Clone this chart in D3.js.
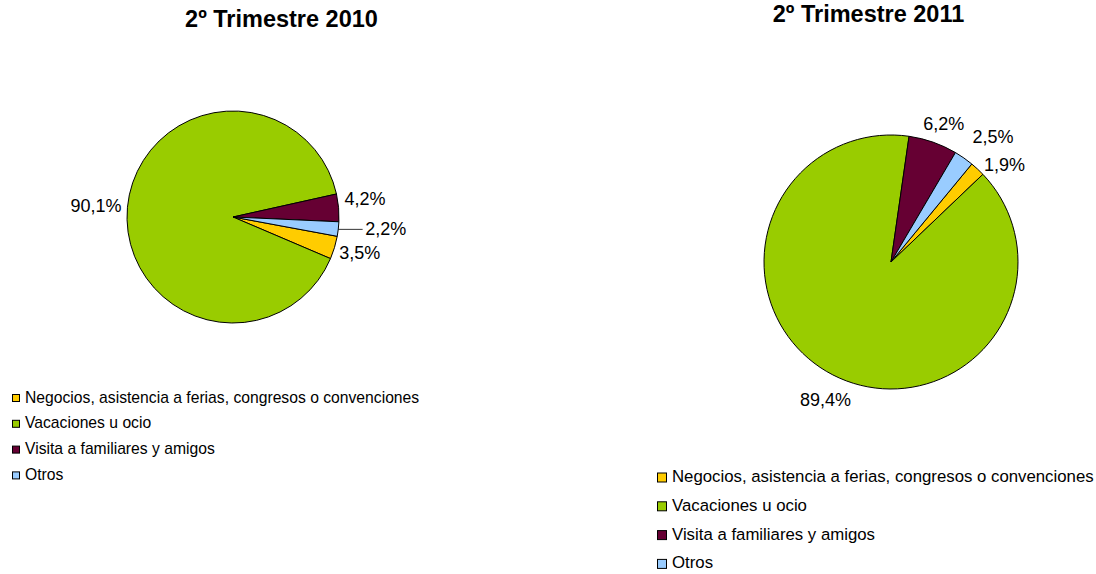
<!DOCTYPE html>
<html>
<head>
<meta charset="utf-8">
<script src="https://cdn.jsdelivr.net/npm/d3@7"></script>
<style>
html,body{margin:0;padding:0;background:#fff;}
svg{display:block;font-family:"Liberation Sans",Arial,sans-serif;}
</style>
</head>
<body>
<svg id="chart" width="1096" height="574"></svg>
<script>
// ---- data ----
const categories = ["Negocios, asistencia a ferias, congresos o convenciones", "Vacaciones u ocio", "Visita a familiares y amigos", "Otros"];
const colors = ["#FFCC00", "#99CC00", "#660033", "#99CCFF"];
const titles = ["2º Trimestre 2010", "2º Trimestre 2011"];
const values2010 = [3.5, 90.1, 4.2, 2.2];
const values2011 = [1.9, 89.4, 6.2, 2.5];

// ---- layout ----
const charts = [
  {title: titles[0], values: values2010, cx: 233, cy: 217, r: 106, start: 100.5,
   titleX: 281.5, titleY: 27,
   nudges: [[0,0],[0,0],[0,-7.5],[21,-2]], leader: [false,false,false,true],
   legend: {x: 12, y: 402.5, step: 25.8, size: 7, font: 15.7}},
  {title: titles[1], values: values2011, cx: 891, cy: 262, r: 127, start: 39.5,
   titleX: 868.5, titleY: 21.5,
   nudges: [[9,7],[7,10],[2,-3],[14,-8]], leader: [false,false,false,false],
   legend: {x: 657, y: 482, step: 28.8, size: 9, font: 16.8}}
];

const svg = d3.select("#chart");
const fmt = v => d3.format(".1f")(v).replace(".", ",") + "%";

charts.forEach(ch => {
  const g = svg.append("g");
  g.append("text").attr("x", ch.titleX).attr("y", ch.titleY)
    .attr("text-anchor", "middle").attr("font-weight", "bold")
    .attr("font-size", 23.5).attr("fill", "#000").text(ch.title);

  const a0 = ch.start * Math.PI / 180;
  const pie = d3.pie().sort(null).value(d => d).startAngle(a0).endAngle(a0 + 2 * Math.PI);
  const arcs = pie(ch.values);
  const arc = d3.arc().innerRadius(0).outerRadius(ch.r);
  const pg = g.append("g").attr("transform", `translate(${ch.cx},${ch.cy})`);
  pg.selectAll("path").data(arcs).join("path")
    .attr("d", arc).attr("fill", (d, i) => colors[i])
    .attr("stroke", "#000").attr("stroke-width", 1).attr("stroke-linejoin", "round");

  // labels
  const R = ch.r + 6;
  arcs.forEach((d, i) => {
    const mid = (d.startAngle + d.endAngle) / 2;
    const s = Math.sin(mid), c = Math.cos(mid);
    const px = R * s, py = -R * c;
    const t = pg.append("text").attr("font-size", 18).attr("fill", "#000")
      .attr("text-anchor", "middle").text(fmt(ch.values[i]));
    const w = t.node().getComputedTextLength();
    const bx = px + s * w / 2 + ch.nudges[i][0];
    const by = py - c * 10 + ch.nudges[i][1];
    t.attr("x", bx).attr("y", by + 6.4);
    if (ch.leader[i]) {
      const rx = ch.r * s, ry = -ch.r * c;
      pg.append("line").attr("x1", rx).attr("y1", ry + 0.3)
        .attr("x2", bx - w / 2 - 2.5).attr("y2", ry + 0.3)
        .attr("stroke", "#000").attr("stroke-width", 0.8);
    }
  });

  // legend
  const L = ch.legend;
  const lg = g.append("g");
  categories.forEach((name, i) => {
    const by = L.y + i * L.step;
    lg.append("rect").attr("x", L.x + 0.5).attr("y", by - 4.5 - L.size / 2)
      .attr("width", L.size).attr("height", L.size)
      .attr("fill", colors[i]).attr("stroke", "#000").attr("stroke-width", 1);
    lg.append("text").attr("x", L.x + L.size + 6).attr("y", by)
      .attr("font-size", L.font).attr("fill", "#000").text(name);
  });
});
</script>
</body>
</html>
